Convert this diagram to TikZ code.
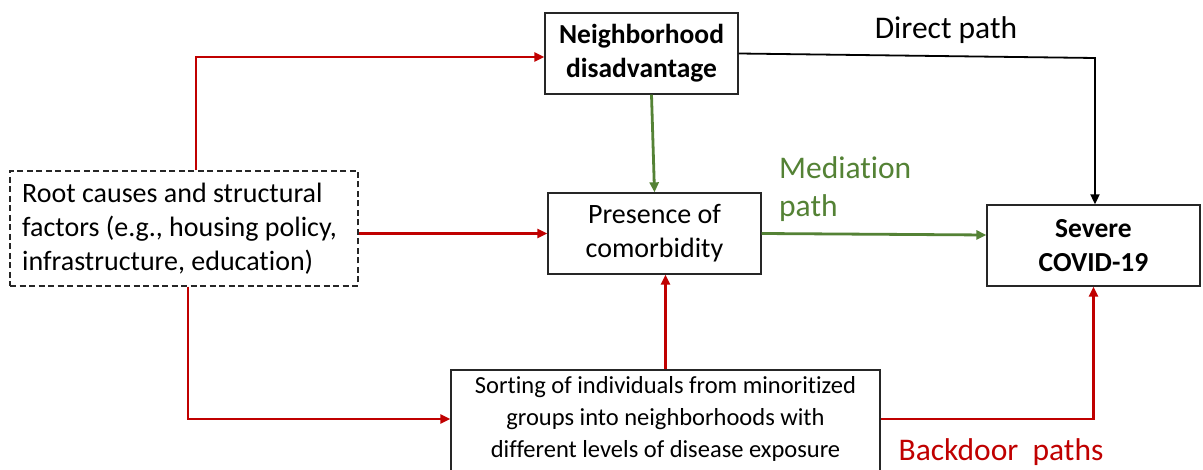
\documentclass[tikz,border=0pt]{standalone}
\usepackage{fontspec}
\setmainfont{Carlito}[RawFeature=-liga]
\usetikzlibrary{arrows.meta,calc}
\definecolor{pathred}{HTML}{C00000}
\definecolor{pathgreen}{HTML}{548235}
\tikzset{
  box/.style={draw=black!85, line width=1.3pt, rectangle, inner sep=0pt, align=center},
  bigtext/.style={font=\fontsize{28}{34}\selectfont},
  labeltext/.style={font=\fontsize{31.5}{38}\selectfont},
  smalltext/.style={font=\fontsize{24.5}{32}\selectfont},
  tip/.style={-{Triangle[length=10pt,width=9pt]}},
  redarrow/.style={tip, draw=pathred, line width=2.4pt},
  greenarrow/.style={tip, draw=pathgreen, line width=2.8pt},
  blackarrow/.style={tip, draw=black, line width=1.8pt},
}
\begin{document}
\begin{tikzpicture}[x=1pt,y=-1pt]
\useasboundingbox (0,0) rectangle (1203,470);
\fill[white] (0,0) rectangle (1203,470);

\node[box, minimum width=193pt, minimum height=81pt, font=\fontsize{27.5}{34}\selectfont\bfseries] (nd) at (641.5,53.5) {Neighborhood\\disadvantage};
\node[box, bigtext, minimum width=213pt, minimum height=81pt] (pres) at (654.5,233.5) {Presence of\\comorbidity};
\node[box, minimum width=213pt, minimum height=81pt, font=\fontsize{27.5}{34}\selectfont\bfseries] (sev) at (1093.5,245.5) {Severe\\COVID-19};
\node[box, dash pattern=on 6pt off 3.5pt, line width=1.2pt, minimum width=348pt, minimum height=115pt] (root) at (184,228.5) {};
\node[bigtext, align=left, anchor=west, inner sep=0pt] (roottext) at (22,229) {Root causes and structural\\factors (e.g., housing policy,\\infrastructure, education)};
\node[box, minimum width=429pt, minimum height=112pt] (sort) at (665.5,426) {};
\node[smalltext, align=center, inner sep=0pt] (sorttext) at (665.5,419) {Sorting of individuals from minoritized\\groups into neighborhoods with\\different levels of disease exposure};

\coordinate (xa) at (196,0);
\coordinate (xb) at (188,0);
\coordinate (dcorner) at (1095,58);

% red paths
\draw[redarrow] (root.north -| xa) |- ([yshift=-3.5pt]nd.west);
\draw[redarrow] (root.east |- pres.west) -- (pres.west);
\draw[redarrow] (root.south -| xb) |- (sort.west |- sorttext);
\draw[redarrow] (sort.north) -- (pres.south -| sort.north);
\draw[redarrow] (sort.east |- sorttext) -| (sev.south);

% green paths
\draw[greenarrow] ([xshift=10pt]nd.south) -- (pres.north);
\draw[greenarrow] (pres.east) -- ([yshift=-1.5pt]sev.west |- pres.east);

% black direct path
\draw[blackarrow] (nd.east) -- (dcorner) -- (dcorner |- sev.north);

% labels
\node[labeltext] (direct) at (946,30) {Direct path};
\node[labeltext, text=pathgreen, align=left, anchor=west, inner sep=0pt] (medi) at (779,189) {Mediation\\path};
\node[labeltext, text=pathred, inner sep=0pt] (back) at (1001,452) {Backdoor\ \ paths};
\end{tikzpicture}
\end{document}
